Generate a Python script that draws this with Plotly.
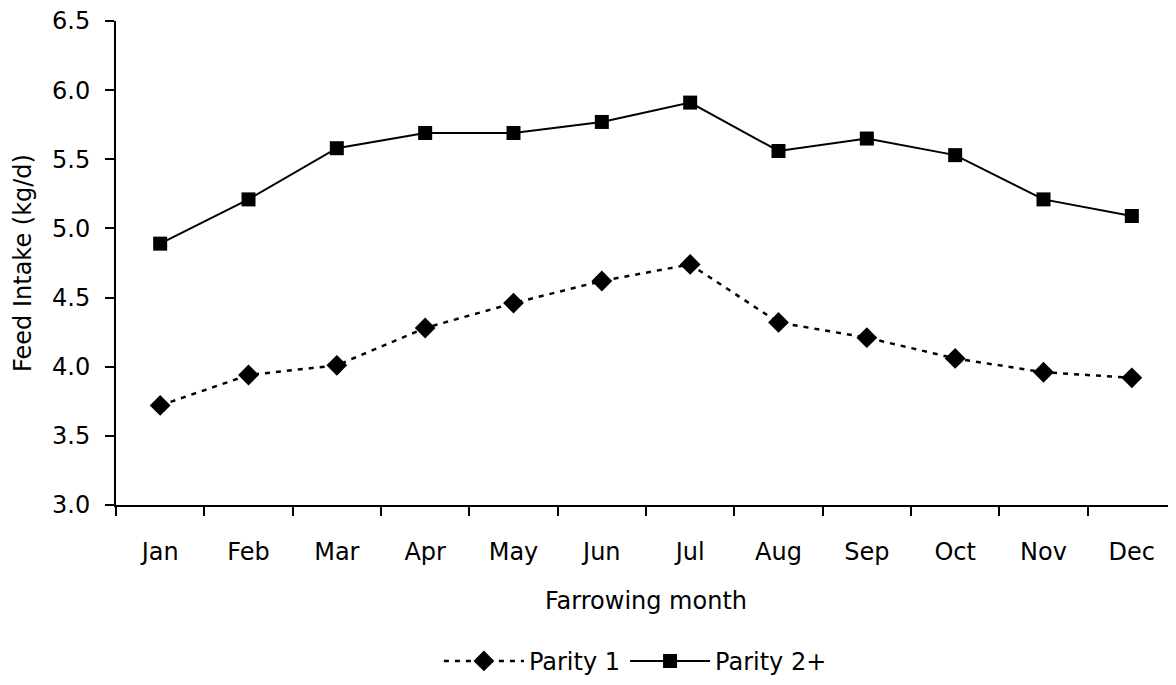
import plotly.graph_objects as go

months = ["Jan", "Feb", "Mar", "Apr", "May", "Jun", "Jul", "Aug", "Sep", "Oct", "Nov", "Dec"]
parity1 = [3.72, 3.94, 4.01, 4.28, 4.46, 4.62, 4.74, 4.32, 4.21, 4.06, 3.96, 3.92]
parity2 = [4.89, 5.21, 5.58, 5.69, 5.69, 5.77, 5.91, 5.56, 5.65, 5.53, 5.21, 5.09]
y_ticks = [3.0, 3.5, 4.0, 4.5, 5.0, 5.5, 6.0, 6.5]

FONT = "'DejaVu Sans', sans-serif"
FS = 24

fig = go.Figure()
fig.add_trace(go.Scatter(
    x=months, y=parity1, name="Parity 1", mode="lines+markers",
    line=dict(color="black", width=2.5, dash="5px,6px"),
    marker=dict(symbol="diamond", size=16, color="black"),
))
fig.add_trace(go.Scatter(
    x=months, y=parity2, name="Parity 2+", mode="lines+markers",
    line=dict(color="black", width=2),
    marker=dict(symbol="square", size=14, color="black"),
))

fig.update_layout(
    width=1168, height=677,
    paper_bgcolor="white", plot_bgcolor="white",
    margin=dict(l=108, r=0, t=13, b=180, autoexpand=False),
    font=dict(family=FONT, size=FS, color="black"),
    showlegend=True,
    legend=dict(orientation="h", xref="paper", yref="container",
                x=0.49, xanchor="center", y=0.035, yanchor="middle",
                font=dict(size=FS), traceorder="normal", itemwidth=80),
)
fig.update_xaxes(
    type="category", range=[-0.5, 11.5], automargin=False,
    showline=True, linecolor="black", linewidth=2,
    ticks="outside", tickson="boundaries", ticklen=9, tickwidth=2, tickcolor="black",
    ticklabelstandoff=24, ticklabeloverflow="allow", showgrid=False, zeroline=False,
    title=dict(text="Farrowing month", standoff=27, font=dict(size=FS)),
)
fig.update_yaxes(
    range=[3.0, 6.5], tickvals=y_ticks, tickformat=".1f", automargin=False,
    showline=True, linecolor="black", linewidth=2,
    ticks="outside", ticklen=9, tickwidth=2, tickcolor="black",
    ticklabelstandoff=10, ticklabeloverflow="allow", showgrid=False, zeroline=False,
    title=dict(text="Feed Intake (kg/d)", standoff=14, font=dict(size=FS)),
)

fig.write_html("out.html")
